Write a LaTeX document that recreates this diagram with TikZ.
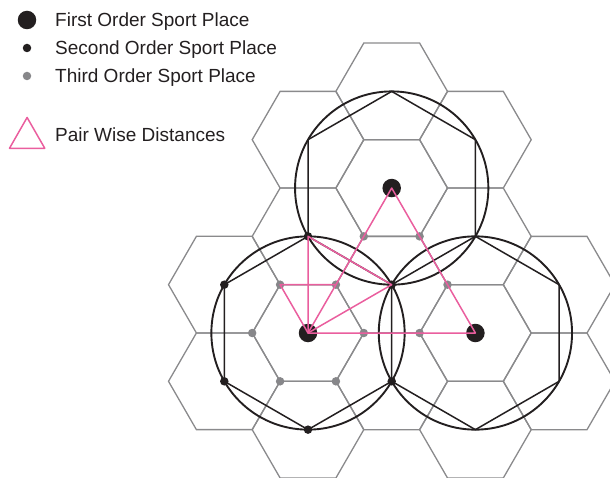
\documentclass[tikz,border=0pt]{standalone}
\usepackage{fontspec}
\setmainfont{Liberation Sans}
\definecolor{ink}{RGB}{35,31,32}
\definecolor{cellgray}{RGB}{138,138,140}
\definecolor{dotgray}{RGB}{135,135,138}
\definecolor{pairpink}{RGB}{234,94,158}

\begin{document}
\begin{tikzpicture}[
  x=1pt,y=-1pt,
  cell/.style={draw=cellgray,line width=1.3pt},
  ring/.style={draw=ink,line width=1.9pt},
  link/.style={draw=ink,line width=1.5pt,line join=round},
  pair/.style={draw=pairpink,line width=1.5pt,line join=round},
  firstdot/.style={circle,fill=ink,inner sep=0pt,minimum size=18.5pt},
  seconddot/.style={circle,fill=ink,inner sep=0pt,minimum size=8.5pt},
  thirddot/.style={circle,fill=dotgray,inner sep=0pt,minimum size=8.5pt},
  legend/.style={anchor=base west,text=ink,inner sep=0pt,font=\fontsize{19}{22}\selectfont}
]
\useasboundingbox (0,0) rectangle (610,478);

% hexagonal market areas
\foreach \i/\j in {-1/-1,-1/0,0/-2,0/-1,0/0,0/1,1/-2,1/-1,1/0,1/1,2/-1,2/0,2/1,2/2,3/1,3/2}
  \draw[cell] ({308+83.7*\i}, {333-48.32*\i+96.65*\j}) +(0:55.8) -- +(60:55.8) -- +(120:55.8)
    -- +(180:55.8) -- +(240:55.8) -- +(300:55.8) -- cycle;

% first order places
\node[firstdot] (west) at (308,333) {};
\node[firstdot] (east) at (475.4,333) {};
\node[firstdot] (north) at (391.7,188.04) {};

\draw[ring] (west.center) circle[radius=96.65];
\draw[ring] (east.center) circle[radius=96.65];
\draw[ring] (north.center) circle[radius=96.65];

% second order places
\node[seconddot] (sn) at (308,236.35) {};
\node[seconddot] (snw) at (224.3,284.68) {};
\node[seconddot] (ssw) at (224.3,381.32) {};
\node[seconddot] (ss) at (308,429.65) {};
\node[seconddot] (sse) at (391.7,381.32) {};
\node[seconddot] (sne) at (391.7,284.68) {};
\coordinate (bn) at (475.4,236.35);
\coordinate (bne) at (559.1,284.68);
\coordinate (bse) at (559.1,381.32);
\coordinate (bs) at (475.4,429.65);
\coordinate (cn) at (391.7,91.39);
\coordinate (cne) at (475.4,139.72);
\coordinate (cnw) at (308,139.72);

\draw[link] (sn.center) -- (snw.center) -- (ssw.center) -- (ss.center) -- (sse.center) -- (sne.center) -- cycle;
\draw[link] (sne.center) -- (bn) -- (bne) -- (bse) -- (bs) -- (sse.center);
\draw[link] (sn.center) -- (cnw) -- (cn) -- (cne) -- (bn);

% third order places
\node[thirddot] (t1) at (280.1,284.68) {};
\node[thirddot] (t2) at (335.9,284.68) {};
\node[thirddot] (t3) at (363.8,333) {};
\node[thirddot] (t4) at (335.9,381.32) {};
\node[thirddot] (t5) at (280.1,381.32) {};
\node[thirddot] (t6) at (252.2,333) {};
\node[thirddot] (t7) at (363.8,236.36) {};
\node[thirddot] (t8) at (419.6,236.36) {};
\node[thirddot] (t9) at (447.5,284.68) {};
\node[thirddot] (t10) at (419.6,333) {};

% pair wise distances
\draw[pair] (west.center) -- (east.center) -- (north.center) -- cycle;
\draw[pair] (west.center) -- (sn.center) -- (sne.center) -- cycle;
\draw[pair] (west.center) -- (t1.center) -- (t2.center);

% legend
\node[firstdot] (key1) at (27,20) {};
\node[seconddot] (key2) at (27,48) {};
\node[thirddot] (key3) at (27,76) {};
\coordinate (key4a) at (9.5,148.3);
\coordinate (key4b) at (44.8,148.3);
\coordinate (key4c) at (27.1,117.5);
\draw[pair] (key4a) -- (key4b) -- (key4c) -- cycle;
\node[legend] (lab1) at (55,26.8) {First Order Sport Place};
\node[legend] (lab2) at (55,54.8) {Second Order Sport Place};
\node[legend] (lab3) at (55,82.8) {Third Order Sport Place};
\node[legend] (lab4) at (55,141.8) {Pair Wise Distances};
\end{tikzpicture}
\end{document}
